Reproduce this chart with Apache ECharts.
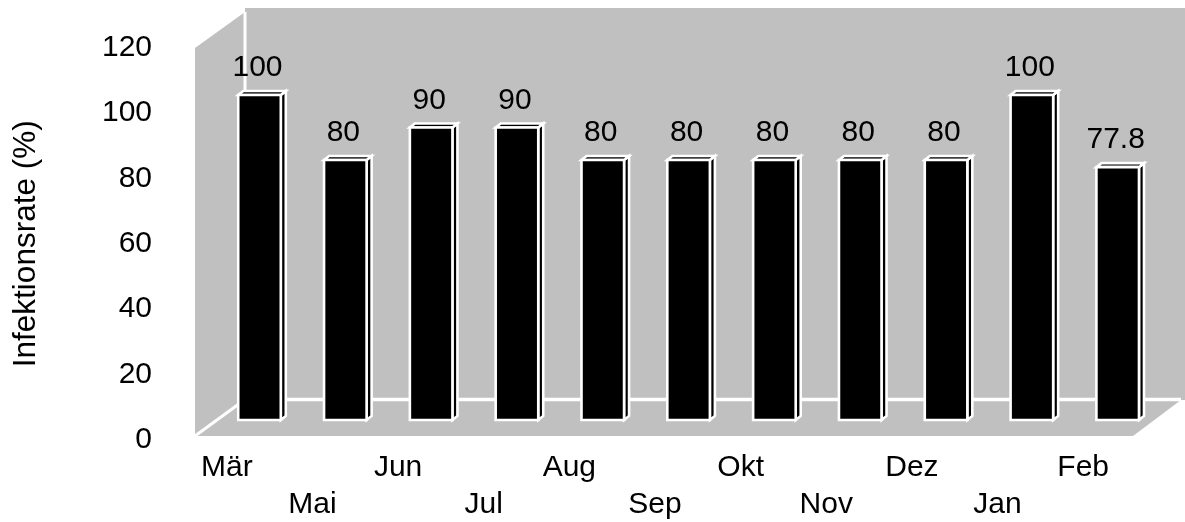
<!DOCTYPE html>
<html>
<head>
<meta charset="utf-8">
<script src="https://cdn.jsdelivr.net/npm/echarts@6/dist/echarts.min.js"></script>
<style>
  html, body { margin: 0; padding: 0; background: #fff; }
  #chart { width: 1185px; height: 522px; }
</style>
</head>
<body>
<div id="chart"></div>
<script>
// Monthly infection rate
const months = ['Mär', 'Mai', 'Jun', 'Jul', 'Aug', 'Sep', 'Okt', 'Nov', 'Dez', 'Jan', 'Feb'];
const rates = [100, 80, 90, 90, 80, 80, 80, 80, 80, 100, 77.8];
const yTicks = [0, 20, 40, 60, 80, 100, 120];

const FONT = '"Liberation Sans", Arial, sans-serif';
const WALL = '#c0c0c0';

// 3D box: front face, right side and top face, all outlined in white
function renderBox(params, api) {
  const idx = api.value(0);
  const v = api.value(1);
  const top = api.coord([idx, v]);
  const base = api.coord([idx, 0]);
  const bw = api.size([1, 0])[0] * 0.496;
  const l = top[0] - bw / 2;
  const r = top[0] + bw / 2;
  const dx = 5, dy = 4;
  const st = { fill: '#000', stroke: '#fff', lineWidth: 2.6, lineJoin: 'miter' };
  return {
    type: 'group',
    children: [
      { type: 'polygon', shape: { points: [[r, top[1]], [r + dx, top[1] - dy], [r + dx, base[1] - dy], [r, base[1]]] }, style: st },
      { type: 'polygon', shape: { points: [[l, top[1]], [l + dx, top[1] - dy], [r + dx, top[1] - dy], [r, top[1]]] }, style: st },
      { type: 'rect', shape: { x: l, y: top[1], width: bw, height: base[1] - top[1] }, style: st },
      { type: 'text', style: { text: String(v), x: top[0] - 2, y: top[1] - 27, align: 'center', verticalAlign: 'middle', font: '30px ' + FONT, fill: '#000' } }
    ]
  };
}

const chart = echarts.init(document.getElementById('chart'), null, { renderer: 'canvas' });

chart.setOption({
  animation: false,
  backgroundColor: '#fff',
  graphic: [
    // back wall
    { type: 'rect', z: -5, shape: { x: 245, y: 8, width: 940, height: 392 }, style: { fill: WALL } },
    // left side wall
    { type: 'polygon', z: -5, shape: { points: [[195, 48], [245, 12], [245, 400], [195, 436]] }, style: { fill: WALL } },
    // floor
    { type: 'polygon', z: -5, shape: { points: [[245, 400], [1181, 400], [1133, 436], [195, 436]] }, style: { fill: WALL } },
    // edges between the planes
    { type: 'line', z: -4, shape: { x1: 245, y1: 12, x2: 245, y2: 399.5 }, style: { stroke: '#fff', lineWidth: 3 } },
    { type: 'line', z: -4, shape: { x1: 245, y1: 399.5, x2: 1181, y2: 399.5 }, style: { stroke: '#fff', lineWidth: 3.5 } },
    { type: 'line', z: -4, shape: { x1: 195, y1: 436, x2: 245, y2: 399.5 }, style: { stroke: '#fff', lineWidth: 3 } }
  ],
  grid: [
    { left: 184, right: 59, top: 47.5, bottom: 82, outerBoundsMode: 'none', containLabel: false },
    { left: 216.6, right: 24.4, top: 30, bottom: 102, outerBoundsMode: 'none', containLabel: false }
  ],
  xAxis: [
    {
      type: 'category', gridIndex: 0, data: months,
      axisLine: { show: false }, axisTick: { show: false },
      axisLabel: {
        interval: 0, margin: 9, color: '#000', fontFamily: FONT, fontSize: 30, lineHeight: 37,
        formatter: (val, i) => (i % 2 ? '\n' + val : val)
      }
    },
    { type: 'category', gridIndex: 1, data: months, show: false }
  ],
  yAxis: [
    {
      type: 'value', gridIndex: 0, min: yTicks[0], max: yTicks[yTicks.length - 1], interval: 20,
      name: 'Infektionsrate (%)', nameLocation: 'middle', nameRotate: 90, nameGap: 142,
      nameTextStyle: { color: '#000', fontFamily: FONT, fontSize: 31.5 },
      axisLine: { show: false }, axisTick: { show: false }, splitLine: { show: false },
      axisLabel: { margin: 32, color: '#000', fontFamily: FONT, fontSize: 30 }
    },
    { type: 'value', gridIndex: 1, min: yTicks[0], max: yTicks[yTicks.length - 1], show: false, splitLine: { show: false } }
  ],
  series: [
    {
      type: 'custom', xAxisIndex: 1, yAxisIndex: 1,
      renderItem: renderBox,
      encode: { x: 0, y: 1 },
      data: months.map((m, i) => [i, rates[i]])
    }
  ]
});
</script>
</body>
</html>
